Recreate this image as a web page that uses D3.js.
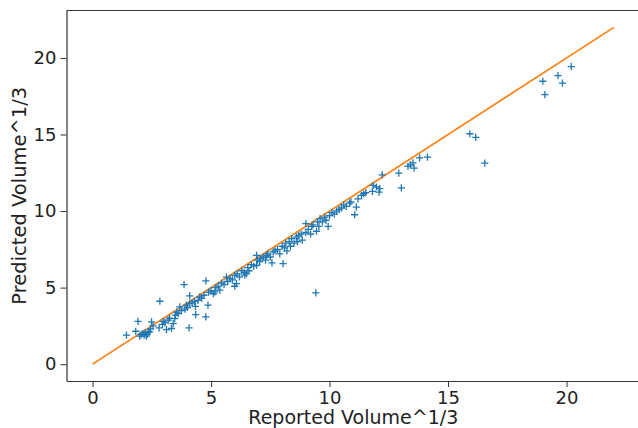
<!DOCTYPE html>
<html>
<head>
<meta charset="utf-8">
<script src="https://cdn.jsdelivr.net/npm/d3@7"></script>
<style>
  body { margin: 0; background: #fff; }
  svg text { font-family: "DejaVu Sans", sans-serif; fill: #222; }
</style>
</head>
<body>
<div id="chart"></div>
<script>
// reported volume^1/3 (x) vs predicted volume^1/3 (y)
const reported = [
  1.43, 1.82, 1.92, 1.99, 2.05, 2.13, 2.18, 2.22, 2.27, 2.30, 2.35, 2.41, 2.49, 2.45, 2.55,
  2.81, 2.84, 2.95, 2.98, 3.05, 3.12, 3.19, 3.25, 3.33, 3.40, 3.47, 3.50, 3.55, 3.61, 3.68, 3.75, 3.86, 3.90, 3.96, 4.00,
  4.07, 4.10, 4.10, 4.20, 4.30, 4.34, 4.35, 4.45, 4.52, 4.60, 4.70, 4.78, 4.78, 4.87, 4.90, 5.00, 5.10, 5.16, 5.20, 5.30, 5.37, 5.45,
  5.55, 5.65, 5.70, 5.80, 5.90, 6.00, 6.00, 6.07, 6.10, 6.20, 6.30, 6.40, 6.42, 6.49, 6.55, 6.60, 6.70, 6.80, 6.92, 6.92, 6.95,
  7.05, 7.10, 7.20, 7.30, 7.34, 7.40, 7.50, 7.57, 7.62, 7.70, 7.80, 7.90, 8.00, 8.04, 8.10, 8.15, 8.20, 8.30, 8.35, 8.40, 8.50,
  8.60, 8.65, 8.70, 8.80, 8.85, 9.00, 9.00, 9.10, 9.20, 9.25, 9.30, 9.42, 9.45, 9.50, 9.55, 9.60, 9.70, 9.80, 9.85, 9.94, 10.00,
  10.10, 10.20, 10.30, 10.40, 10.50, 10.60, 10.70, 10.85, 10.90, 11.06, 11.13, 11.20, 11.35, 11.44, 11.53,
  11.81, 11.84, 11.98, 12.09, 12.12, 12.22, 12.92, 13.03, 13.31, 13.41, 13.52, 13.57, 13.80, 14.13,
  15.92, 16.17, 16.55, 19.00, 19.09, 19.64, 19.83, 20.20
];
const predicted = [
  1.89, 2.15, 2.80, 1.83, 1.95, 2.00, 1.90, 2.05, 1.83, 1.95, 2.10, 2.11, 2.76, 2.30, 2.50,
  2.37, 4.11, 2.60, 2.80, 2.70, 2.26, 2.87, 3.00, 2.33, 2.65, 2.98, 3.20, 3.40, 3.31, 3.74, 3.50, 5.20, 3.60, 3.85, 3.70,
  2.37, 3.96, 4.46, 4.00, 4.10, 3.78, 3.24, 4.17, 4.39, 4.30, 4.50, 5.44, 3.09, 3.85, 4.70, 4.80, 4.60, 4.72, 5.00, 5.10, 4.83, 5.30,
  5.20, 5.69, 5.40, 5.60, 5.50, 5.09, 5.80, 5.26, 5.90, 5.70, 6.10, 6.00, 5.81, 5.91, 6.30, 6.10, 6.50, 6.40, 6.46, 7.11, 6.80,
  6.70, 6.90, 7.00, 6.80, 7.11, 7.20, 7.00, 6.61, 7.33, 7.40, 7.50, 7.20, 7.70, 6.57, 7.60, 7.90, 7.40, 8.00, 7.70, 8.20, 7.90,
  8.30, 8.00, 8.40, 8.50, 8.10, 9.18, 8.60, 8.80, 8.50, 9.00, 9.10, 4.65, 8.68, 9.30, 9.00, 9.50, 9.30, 9.60, 9.40, 9.00, 9.70,
  9.90, 9.80, 10.00, 10.10, 10.20, 10.40, 10.30, 10.52, 10.60, 9.76, 10.26, 10.80, 11.02, 11.13, 11.20,
  11.29, 11.68, 11.57, 11.24, 11.46, 12.37, 12.48, 11.52, 12.92, 13.02, 13.15, 12.81, 13.48, 13.52,
  15.05, 14.81, 13.13, 18.48, 17.61, 18.85, 18.35, 19.44
];
// reference line y = x
const lineX = [0, 22];
const xTicks = [0, 5, 10, 15, 20];
const yTicks = [0, 5, 10, 15, 20];

const width = 638, height = 428;
const margin = { top: 10.5, right: -2, bottom: 47, left: 66.5 };

const svg = d3.select("#chart").append("svg")
  .attr("width", width).attr("height", height);

const x = d3.scaleLinear().domain([-1.1, 23.1])
  .range([margin.left, width - margin.right]);
const y = d3.scaleLinear().domain([-1.1, 23.1])
  .range([height - margin.bottom, margin.top]);

const points = reported.map((d, i) => ({ x: d, y: predicted[i] }));

// reference line
svg.append("path")
  .datum(lineX)
  .attr("d", d3.line().x(d => x(d)).y(d => y(d)))
  .attr("stroke", "#ff7f0e")
  .attr("stroke-width", 1.7)
  .attr("fill", "none");

// '+' markers
const s = 3.6;
svg.append("g").selectAll("path")
  .data(points).enter().append("path")
  .attr("d", d => "M" + (x(d.x) - s) + "," + y(d.y) + "h" + 2 * s +
                  "M" + x(d.x) + "," + (y(d.y) - s) + "v" + 2 * s)
  .attr("stroke", "#1f77b4")
  .attr("stroke-width", 1.3)
  .attr("fill", "none");

// axes
const xAxis = svg.append("g")
  .attr("transform", "translate(0," + (height - margin.bottom) + ")")
  .call(d3.axisBottom(x).tickValues(xTicks).tickSize(6).tickPadding(4).tickSizeOuter(0));
const yAxis = svg.append("g")
  .attr("transform", "translate(" + margin.left + ",0)")
  .call(d3.axisLeft(y).tickValues(yTicks).tickSize(6).tickPadding(4).tickSizeOuter(0));

[xAxis, yAxis].forEach(a => {
  a.select(".domain").attr("stroke", "#333").attr("stroke-width", 1.2);
  a.selectAll(".tick line").attr("stroke", "#333").attr("stroke-width", 1);
  a.selectAll(".tick text").attr("font-size", 18).attr("font-family", "DejaVu Sans").attr("fill", "#222");
});

// top spine
svg.append("line")
  .attr("x1", margin.left).attr("x2", width)
  .attr("y1", margin.top).attr("y2", margin.top)
  .attr("stroke", "#333").attr("stroke-width", 1.2);

// axis labels
svg.append("text")
  .attr("x", x(11)).attr("y", 424)
  .attr("text-anchor", "middle")
  .attr("font-size", 19)
  .text("Reported Volume^1/3");

svg.append("text")
  .attr("transform", "translate(26," + y(11) + ") rotate(-90)")
  .attr("text-anchor", "middle")
  .attr("font-size", 19.5)
  .text("Predicted Volume^1/3");
</script>
</body>
</html>
